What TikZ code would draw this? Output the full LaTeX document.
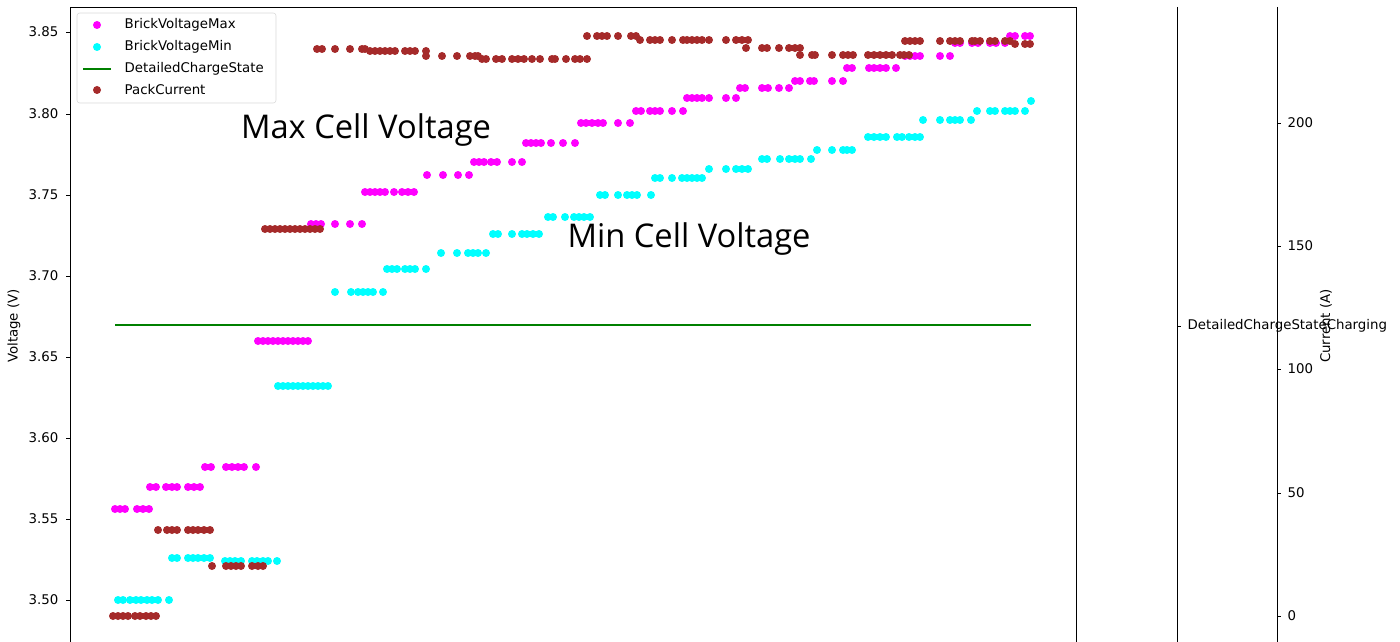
\documentclass[tikz,border=0pt]{standalone}
\usepackage{fontspec}
\setmainfont{DejaVu Sans}
\newfontfamily\labelfont{Open Sans}
\begin{document}
\begin{tikzpicture}[x=0.75pt,y=-0.75pt]
\tikzset{myFont/.style={font=\fontsize{10}{12}\selectfont}}
\tikzset{mySpine/.style={draw=black,line width=0.6pt}}
\tikzset{bigLabel/.style={font=\labelfont\fontsize{24.5}{29}\selectfont}}
\definecolor{vmax}{RGB}{255,0,255}
\definecolor{vmin}{RGB}{0,255,255}
\definecolor{pack}{RGB}{165,42,42}
\definecolor{state}{RGB}{0,128,0}
\newcommand\dotrow[3]{\foreach \x in {#2} \fill[#1] (\x,#3) circle[radius=3pt];}
\useasboundingbox (0,0) rectangle (1400,642);

% spines
\draw[mySpine] (70,642) -- (70,7) -- (1076,7) -- (1076,642);
\draw[mySpine] (1177,7) -- (1177,642);
\draw[mySpine] (1277,7) -- (1277,642);

% voltage ticks
\foreach \v/\y in {3.85/32,3.80/114,3.75/195,3.70/276,3.65/357,3.60/438,3.55/519,3.50/600}
  {\draw[mySpine] (66,\y) -- (70,\y); \node[myFont,anchor=east] (v\y) at (63,\y) {\v};}
% current ticks
\foreach \c/\y in {0/616,50/493,100/369,150/246,200/123}
  {\draw[mySpine] (1277,\y) -- (1281,\y); \node[myFont,anchor=west] (c\y) at (1283,\y) {\c};}
\draw[mySpine] (1177,326) -- (1181,326);
\node[myFont,anchor=west] (stateTick) at (1183,326) {DetailedChargeStateCharging};
\node[myFont,rotate=90] (voltAxis) at (14,326) {Voltage (V)};
\node[myFont,rotate=90] (currAxis) at (1326,326) {Current (A)};

% charge state
\draw[state,line width=1.2pt] (115,325) -- (1031,325);

% BrickVoltageMax
\dotrow{vmax}{115,120,125,137,143,149}{509}
\dotrow{vmax}{150,156,166,172,177,188,194,200}{487}
\dotrow{vmax}{205,211,226,232,238,244,256}{467}
\dotrow{vmax}{258,263,268,273,278,283,288,293,298,303,308}{341}
\dotrow{vmax}{311,316,321,335,350,362}{224}
\dotrow{vmax}{365,370,375,380,385,394,402,408,414}{192}
\dotrow{vmax}{427,443,458,469}{175}
\dotrow{vmax}{474,479,484,491,497,512,522}{162}
\dotrow{vmax}{526,531,536,541,551,563,575}{143}
\dotrow{vmax}{581,586,592,598,603,618,630}{123}
\dotrow{vmax}{636,641,650,655,660,672,683}{111}
\dotrow{vmax}{687,692,697,702,709,726,736}{98}
\dotrow{vmax}{740,745,762,768,779,789}{88}
\dotrow{vmax}{795,800,810,814,832,843}{81}
\dotrow{vmax}{847,852,869,874,880,886,896}{68}
\dotrow{vmax}{905,910,915,920,940,950}{56}
\dotrow{vmax}{955,960,972,978,990,996,1005}{43}
\dotrow{vmax}{1010,1015,1025,1030}{36}

% BrickVoltageMin
\dotrow{vmin}{118,123,130,136,141,147,152,158,169}{600}
\dotrow{vmin}{172,177,188,193,198,204,210}{558}
\dotrow{vmin}{225,230,235,241,252,257,263,268,277}{561}
\dotrow{vmin}{278,283,288,293,298,303,308,313,318,323,328}{386}
\dotrow{vmin}{335,351,358,363,368,373,383}{292}
\dotrow{vmin}{387,392,397,405,410,415,426}{269}
\dotrow{vmin}{441,457,468,473,478,486}{253}
\dotrow{vmin}{493,498,512,522,527,533,539}{234}
\dotrow{vmin}{548,553,565,574,579,584,590}{217}
\dotrow{vmin}{600,605,618,627,632,637,651}{195}
\dotrow{vmin}{655,660,672,682,687,692,697,702}{178}
\dotrow{vmin}{709,726,736,742,748}{169}
\dotrow{vmin}{762,767,780,789,795,800,811}{159}
\dotrow{vmin}{817,832,843,847,852}{150}
\dotrow{vmin}{868,874,880,886,897,902,909,915,920}{137}
\dotrow{vmin}{923,940,950,955,960,971}{120}
\dotrow{vmin}{977,990,995,1005,1010,1015,1025}{111}
\dotrow{vmin}{1031}{101}

% PackCurrent
\dotrow{pack}{113,118,123,128,135,140,146,151,156}{616}
\dotrow{pack}{158,167,172,177,188,193,198,204,210}{530}
\dotrow{pack}{212}{566}
\dotrow{pack}{226,231,236,241,252,258,263}{566}
\dotrow{pack}{265,270,275,280,285,290,295,300,305,310,315,320}{229}
\dotrow{pack}{317,322,335,350,362,365}{49}
\dotrow{pack}{370,375,380,385,390,395,405,410,415,426}{51}
\dotrow{pack}{426,442,457,470,475,478}{56}
\dotrow{pack}{482,486,496,502,512,518,524,532,540,552,555,566,575,580,587}{59}
\dotrow{pack}{587,597,602,607,618,631,636}{36}
\dotrow{pack}{640,650,655,660,672,683,687,692,697,702,709,726,736,742,748}{40}
\dotrow{pack}{746,762,767,779,789,795,800}{48}
\dotrow{pack}{800,812,815,832,843,848,853,868,874,880,886,892,900,904,909}{55}
\dotrow{pack}{905,910,915,920,940,950,955,960,972,975,980,990,995,1005,1010}{41}
\dotrow{pack}{1015,1025,1030}{44}

% annotations
\node[bigLabel] (maxLabel) at (366,130) {Max Cell Voltage};
\node[bigLabel] (minLabel) at (689,239) {Min Cell Voltage};

% legend
\draw[draw=black!15,fill=white,rounded corners=2pt,fill opacity=0.8] (77,13) rectangle (276,103);
\fill[vmax] (97,25) circle[radius=3pt];
\fill[vmin] (97,47) circle[radius=3pt];
\draw[state,line width=1.2pt] (83,69) -- (111,69);
\fill[pack] (97,90) circle[radius=3pt];
\node[myFont,anchor=west] (legMax) at (120,25) {BrickVoltageMax};
\node[myFont,anchor=west] (legMin) at (120,47) {BrickVoltageMin};
\node[myFont,anchor=west] (legState) at (120,69) {DetailedChargeState};
\node[myFont,anchor=west] (legPack) at (120,90) {PackCurrent};
\end{tikzpicture}
\end{document}
